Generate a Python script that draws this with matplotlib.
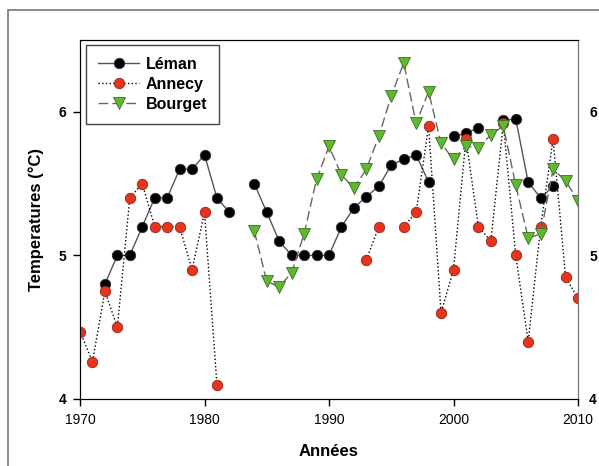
import numpy as np
import matplotlib
matplotlib.use('Agg')
import matplotlib.pyplot as plt
from matplotlib.patches import Rectangle

plt.rcParams['font.family'] = ['Liberation Sans', 'DejaVu Sans']

nan = np.nan
years = list(range(1970, 2011))

# Températures moyennes annuelles (°C)
leman = [nan, nan, 4.80, 5.00, 5.00, 5.20, 5.40, 5.40, 5.60, 5.60,
         5.70, 5.40, 5.30, nan, 5.50, 5.30, 5.10, 5.00, 5.00, 5.00,
         5.00, 5.20, 5.33, 5.41, 5.48, 5.63, 5.67, 5.70, 5.51, nan,
         5.83, 5.85, 5.89, nan, 5.94, 5.95, 5.51, 5.40, 5.48, nan, nan]
annecy = [4.47, 4.26, 4.75, 4.50, 5.40, 5.50, 5.20, 5.20, 5.20, 4.90,
          5.30, 4.10, nan, nan, nan, nan, nan, nan, nan, nan,
          nan, nan, nan, 4.97, 5.20, nan, 5.20, 5.30, 5.90, 4.60,
          4.90, 5.81, 5.20, 5.10, 5.92, 5.00, 4.40, 5.20, 5.81, 4.85, 4.70]
bourget = [nan, nan, nan, nan, nan, nan, nan, nan, nan, nan,
           nan, nan, nan, nan, 5.17, 4.82, 4.78, 4.88, 5.15, 5.53,
           5.76, 5.56, 5.47, 5.60, 5.83, 6.11, 6.34, 5.92, 6.14, 5.78,
           5.67, 5.76, 5.75, 5.84, 5.90, 5.49, 5.12, 5.15, 5.60, 5.52, 5.38]

fig = plt.figure(figsize=(5.99, 4.66), dpi=100)
ax = fig.add_axes([80 / 599, 1 - 399 / 466, 498 / 599, 359 / 466])

# cadre extérieur
fig.patches.append(Rectangle((8 / 599, -0.1), 1.2, 1 - 10 / 466 + 0.1,
                             transform=fig.transFigure, fill=False,
                             edgecolor='#777777', linewidth=1.2))

ax.plot(years, leman, '-', color='#555555', linewidth=1,
        marker='o', markersize=7.5, markerfacecolor='black',
        markeredgecolor='#333333', markeredgewidth=0.6, label='Léman')
ax.plot(years, annecy, ':', color='black', linewidth=1,
        marker='o', markersize=7.5, markerfacecolor='#e8341c',
        markeredgecolor='#8a2a1a', markeredgewidth=0.6, label='Annecy')
ax.plot(years, bourget, '--', color='#666666', linewidth=1, dashes=(7, 3),
        marker='v', markersize=8.5, markerfacecolor='#5fb830',
        markeredgecolor='#3b6e22', markeredgewidth=0.6, label='Bourget')

ax.set_xlim(1970, 2010)
ax.set_ylim(4, 6.5)
ax.set_xticks([1970, 1980, 1990, 2000, 2010])
ax.set_yticks([4, 5, 6])
ax.tick_params(axis='both', direction='out', length=5, width=1,
               labelsize=10, pad=5)

ax2 = ax.twinx()
ax2.set_ylim(4, 6.5)
ax2.set_yticks([4, 5, 6])
ax2.tick_params(axis='y', length=0, labelsize=10, pad=8)
ax2.spines['right'].set_color('#777777')

for a in (ax, ax2):
    for lab in a.get_yticklabels():
        lab.set_fontweight('bold')

ax.set_xlabel('Années', fontsize=12, fontweight='bold', labelpad=12)
ax.set_ylabel('Temperatures (°C)', fontsize=12, fontweight='bold', labelpad=10)

leg = ax.legend(loc='upper left', bbox_to_anchor=(0.012, 0.986),
                borderaxespad=0, fancybox=False, framealpha=1,
                edgecolor='#444444', prop={'weight': 'bold', 'size': 11.5},
                handlelength=2.6, handletextpad=0.4, borderpad=0.75,
                labelspacing=0.3)
leg.get_frame().set_linewidth(1)

fig.savefig('out.png', dpi=100)
